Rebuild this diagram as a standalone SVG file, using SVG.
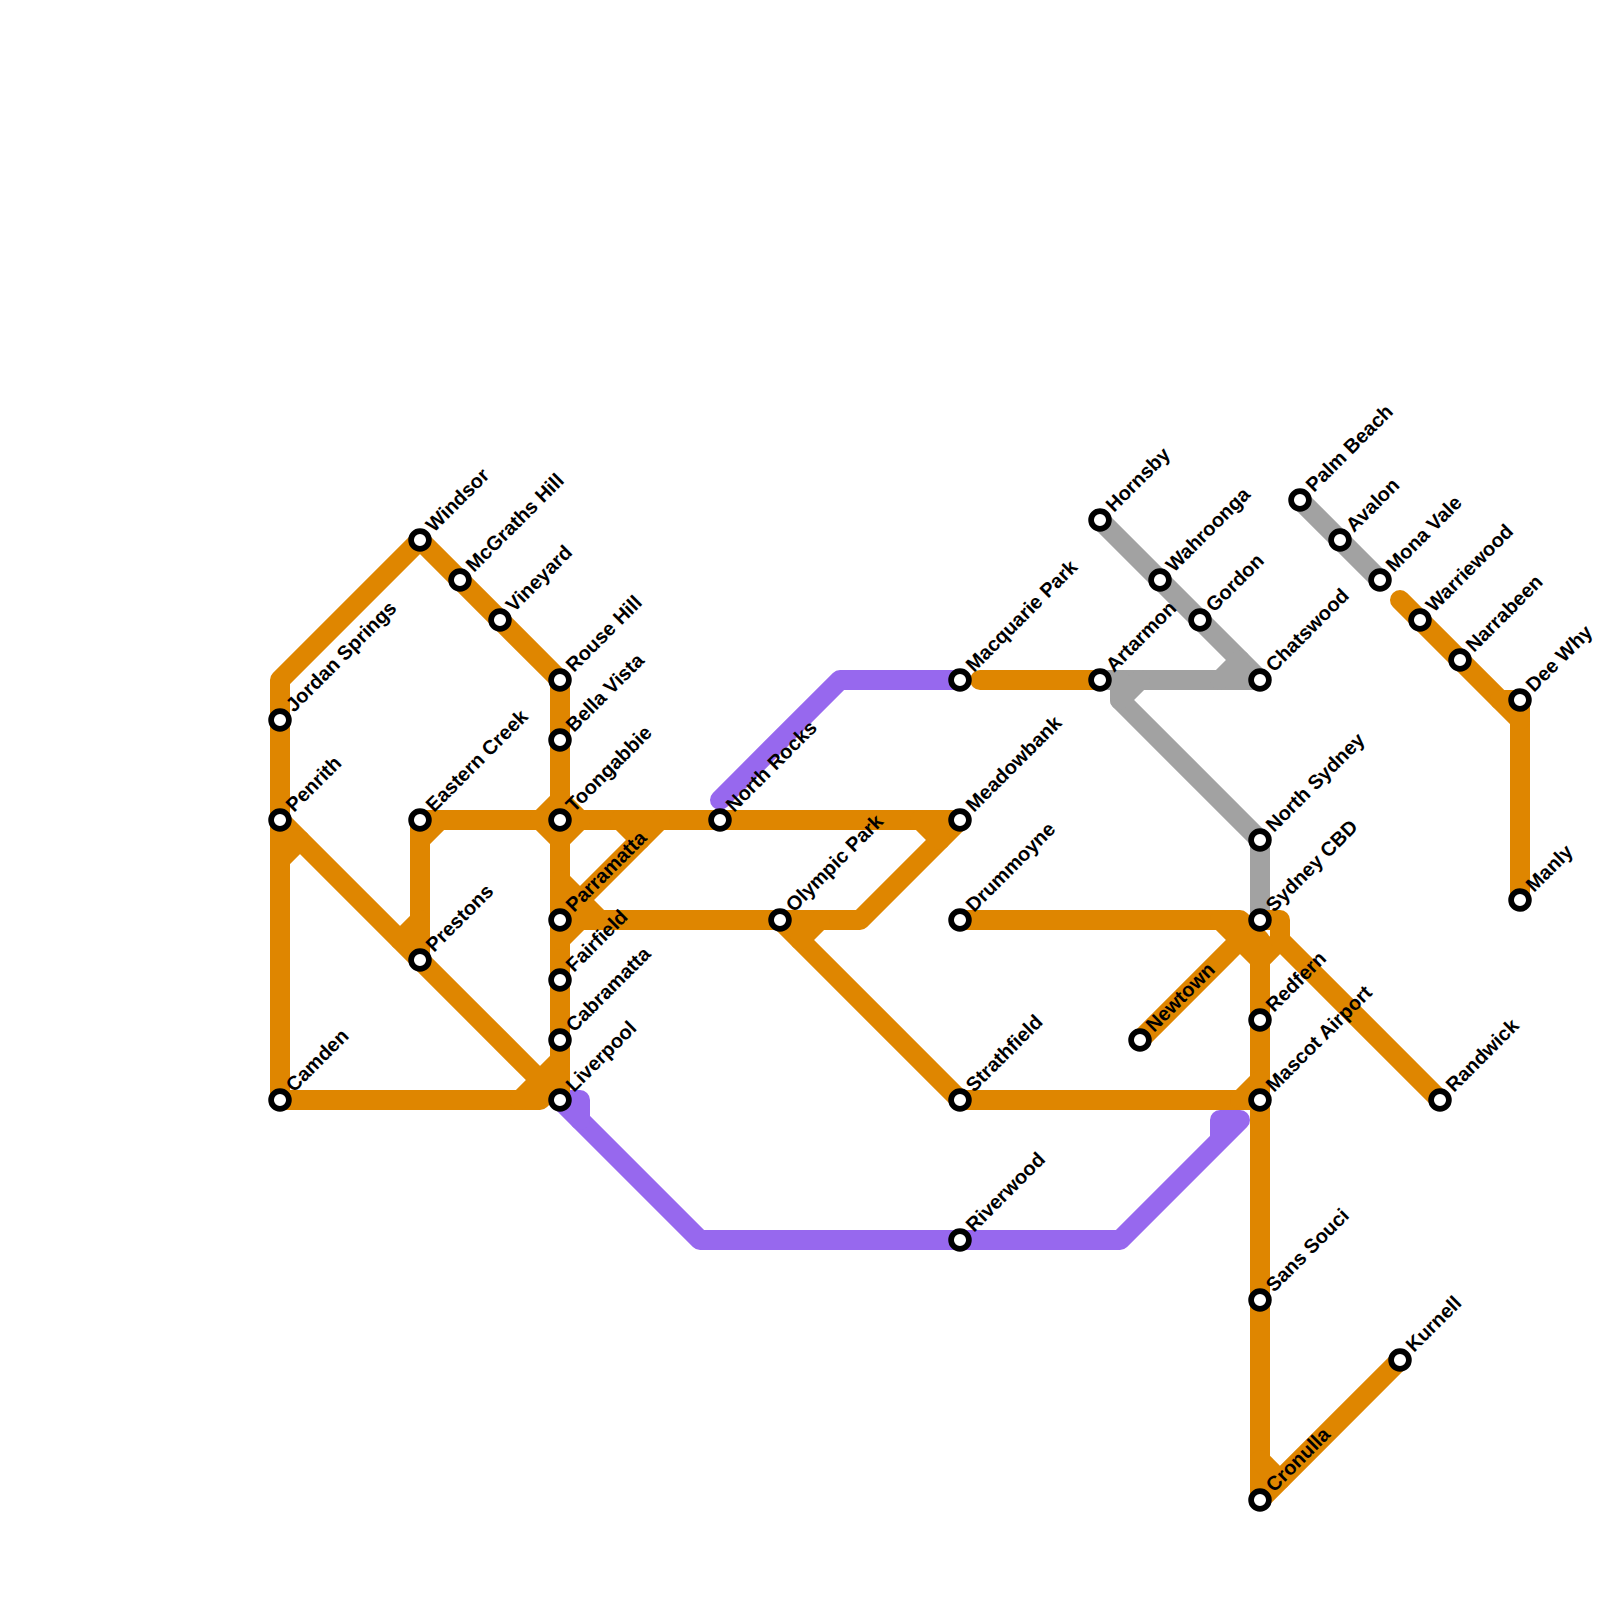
<svg xmlns="http://www.w3.org/2000/svg" width="1600" height="1600" viewBox="0 0 1600 1600">
<style>
.l{fill:none;stroke-width:20;stroke-linecap:round;stroke-linejoin:round}
.o{stroke:#df8600}.p{stroke:#9768ee}.g{stroke:#a2a2a2}
.s{fill:#fff;stroke:#000;stroke-width:5.7}
text{font-family:"Liberation Sans",Arial,sans-serif;font-size:20px;font-weight:700;fill:#000}
</style>
<rect width="1600" height="1600" fill="#fff"/>
<g id="connectors">
<g class="l g">
<path d="M1100 520L1260 680"/><path d="M1260 680H1120V700L1260 840V920"/><path d="M1108 680H1120"/><path d="M1120 700L1140 680"/><path d="M1220 680L1240 660"/><path d="M1300 500L1380 580"/>
</g>
<g class="l p">
<path d="M960 680H840L720 800"/><path d="M560 1100L700 1240H1120L1240 1120H1220V1140"/><path d="M560 1100H580V1120"/>
</g>
<g class="l o">
<path d="M280 1100V680L420 540L560 680V1100"/>
<path d="M280 820L540 1080"/><path d="M280 860L300 840"/>
<path d="M280 1100H540L560 1080"/><path d="M520 1100L560 1060"/>
<path d="M420 960V820H960"/><path d="M420 840L440 820"/><path d="M400 940L420 920"/>
<path d="M540 820L560 800L580 820"/><path d="M540 820L560 840L580 820"/>
<path d="M560 880L600 920"/><path d="M560 920L660 820"/><path d="M620 820L640 840"/><path d="M560 940L580 920"/>
<path d="M560 920H860L960 820"/><path d="M920 820L940 840"/>
<path d="M780 920L960 1100H1260"/><path d="M800 940L820 920"/>
<path d="M980 680H1100"/>
<path d="M960 920H1240L1260 940V1500L1400 1360"/>
<path d="M1140 1040L1260 920"/><path d="M1220 920L1260 960L1280 940"/><path d="M1260 920H1280V940L1440 1100"/>
<path d="M1240 1100L1260 1080"/><path d="M1260 1460L1280 1480"/>
<path d="M1400 600L1520 720V900"/><path d="M1500 700H1520V720"/>
</g>
</g>
<g id="n1"><circle class="s" cx="280" cy="720" r="8.9"/><text transform="translate(294 713) rotate(-45)">Jordan Springs</text></g>
<g id="n2"><circle class="s" cx="280" cy="820" r="8.9"/><text transform="translate(294 813) rotate(-45)">Penrith</text></g>
<g id="n3"><circle class="s" cx="280" cy="1100" r="8.9"/><text transform="translate(294 1093) rotate(-45)">Camden</text></g>
<g id="n4"><circle class="s" cx="420" cy="540" r="8.9"/><text transform="translate(434 533) rotate(-45)">Windsor</text></g>
<g id="n5"><circle class="s" cx="460" cy="580" r="8.9"/><text transform="translate(474 573) rotate(-45)">McGraths Hill</text></g>
<g id="n6"><circle class="s" cx="500" cy="620" r="8.9"/><text transform="translate(514 613) rotate(-45)">Vineyard</text></g>
<g id="n7"><circle class="s" cx="560" cy="680" r="8.9"/><text transform="translate(574 673) rotate(-45)">Rouse Hill</text></g>
<g id="n8"><circle class="s" cx="560" cy="740" r="8.9"/><text transform="translate(574 733) rotate(-45)">Bella Vista</text></g>
<g id="n9"><circle class="s" cx="560" cy="820" r="8.9"/><text transform="translate(574 813) rotate(-45)">Toongabbie</text></g>
<g id="n10"><circle class="s" cx="420" cy="820" r="8.9"/><text transform="translate(434 813) rotate(-45)">Eastern Creek</text></g>
<g id="n11"><circle class="s" cx="420" cy="960" r="8.9"/><text transform="translate(434 953) rotate(-45)">Prestons</text></g>
<g id="n12"><circle class="s" cx="560" cy="920" r="8.9"/><text transform="translate(574 913) rotate(-45)">Parramatta</text></g>
<g id="n13"><circle class="s" cx="560" cy="980" r="8.9"/><text transform="translate(574 973) rotate(-45)">Fairfield</text></g>
<g id="n14"><circle class="s" cx="560" cy="1040" r="8.9"/><text transform="translate(574 1033) rotate(-45)">Cabramatta</text></g>
<g id="n15"><circle class="s" cx="560" cy="1100" r="8.9"/><text transform="translate(574 1093) rotate(-45)">Liverpool</text></g>
<g id="n16"><circle class="s" cx="720" cy="820" r="8.9"/><text transform="translate(734 813) rotate(-45)">North Rocks</text></g>
<g id="n17"><circle class="s" cx="780" cy="920" r="8.9"/><text transform="translate(794 913) rotate(-45)">Olympic Park</text></g>
<g id="n18"><circle class="s" cx="960" cy="680" r="8.9"/><text transform="translate(974 673) rotate(-45)">Macquarie Park</text></g>
<g id="n19"><circle class="s" cx="960" cy="820" r="8.9"/><text transform="translate(974 813) rotate(-45)">Meadowbank</text></g>
<g id="n20"><circle class="s" cx="960" cy="920" r="8.9"/><text transform="translate(974 913) rotate(-45)">Drummoyne</text></g>
<g id="n21"><circle class="s" cx="960" cy="1100" r="8.9"/><text transform="translate(974 1093) rotate(-45)">Strathfield</text></g>
<g id="n22"><circle class="s" cx="960" cy="1240" r="8.9"/><text transform="translate(974 1233) rotate(-45)">Riverwood</text></g>
<g id="n23"><circle class="s" cx="1100" cy="680" r="8.9"/><text transform="translate(1114 673) rotate(-45)">Artarmon</text></g>
<g id="n24"><circle class="s" cx="1100" cy="520" r="8.9"/><text transform="translate(1114 513) rotate(-45)">Hornsby</text></g>
<g id="n25"><circle class="s" cx="1160" cy="580" r="8.9"/><text transform="translate(1174 573) rotate(-45)">Wahroonga</text></g>
<g id="n26"><circle class="s" cx="1200" cy="620" r="8.9"/><text transform="translate(1214 613) rotate(-45)">Gordon</text></g>
<g id="n27"><circle class="s" cx="1260" cy="680" r="8.9"/><text transform="translate(1274 673) rotate(-45)">Chatswood</text></g>
<g id="n28"><circle class="s" cx="1260" cy="840" r="8.9"/><text transform="translate(1274 833) rotate(-45)">North Sydney</text></g>
<g id="n29"><circle class="s" cx="1260" cy="920" r="8.9"/><text transform="translate(1274 913) rotate(-45)">Sydney CBD</text></g>
<g id="n30"><circle class="s" cx="1260" cy="1020" r="8.9"/><text transform="translate(1274 1013) rotate(-45)">Redfern</text></g>
<g id="n31"><circle class="s" cx="1260" cy="1100" r="8.9"/><text transform="translate(1274 1093) rotate(-45)">Mascot Airport</text></g>
<g id="n32"><circle class="s" cx="1260" cy="1300" r="8.9"/><text transform="translate(1274 1293) rotate(-45)">Sans Souci</text></g>
<g id="n33"><circle class="s" cx="1260" cy="1500" r="8.9"/><text transform="translate(1274 1493) rotate(-45)">Cronulla</text></g>
<g id="n34"><circle class="s" cx="1400" cy="1360" r="8.9"/><text transform="translate(1414 1353) rotate(-45)">Kurnell</text></g>
<g id="n35"><circle class="s" cx="1140" cy="1040" r="8.9"/><text transform="translate(1154 1033) rotate(-45)">Newtown</text></g>
<g id="n36"><circle class="s" cx="1440" cy="1100" r="8.9"/><text transform="translate(1454 1093) rotate(-45)">Randwick</text></g>
<g id="n37"><circle class="s" cx="1300" cy="500" r="8.9"/><text transform="translate(1314 493) rotate(-45)">Palm Beach</text></g>
<g id="n38"><circle class="s" cx="1340" cy="540" r="8.9"/><text transform="translate(1354 533) rotate(-45)">Avalon</text></g>
<g id="n39"><circle class="s" cx="1380" cy="580" r="8.9"/><text transform="translate(1394 573) rotate(-45)">Mona Vale</text></g>
<g id="n40"><circle class="s" cx="1420" cy="620" r="8.9"/><text transform="translate(1434 613) rotate(-45)">Warriewood</text></g>
<g id="n41"><circle class="s" cx="1460" cy="660" r="8.9"/><text transform="translate(1474 653) rotate(-45)">Narrabeen</text></g>
<g id="n42"><circle class="s" cx="1520" cy="700" r="8.9"/><text transform="translate(1534 693) rotate(-45)">Dee Why</text></g>
<g id="n43"><circle class="s" cx="1520" cy="900" r="8.9"/><text transform="translate(1534 893) rotate(-45)">Manly</text></g>
</svg>
